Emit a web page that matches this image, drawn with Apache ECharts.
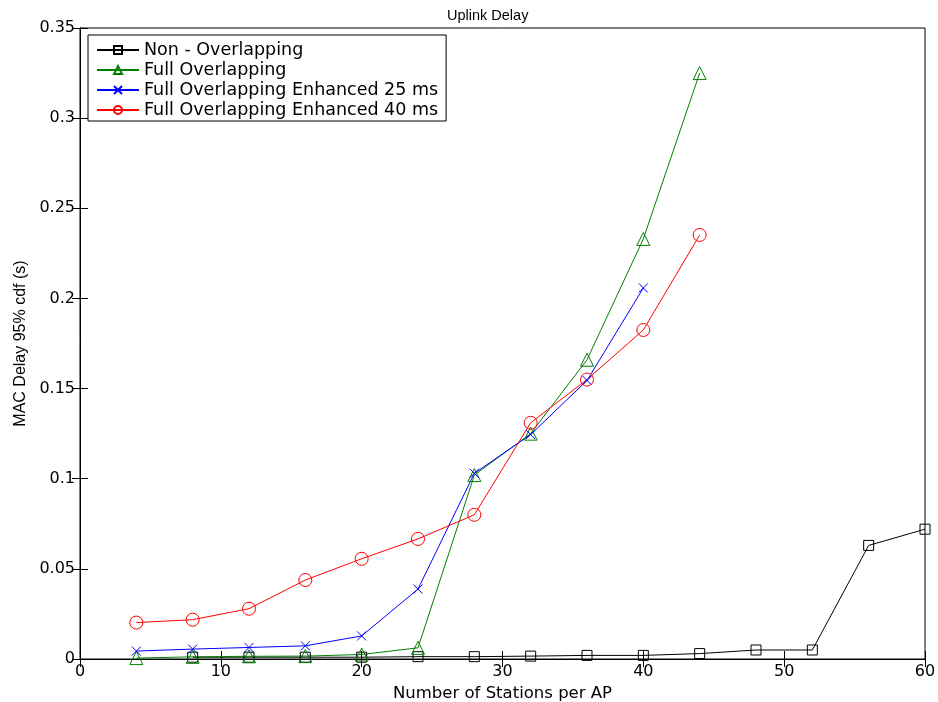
<!DOCTYPE html>
<html>
<head>
<meta charset="utf-8">
<script src="https://cdn.jsdelivr.net/npm/echarts@6/dist/echarts.min.js"></script>
<style>
  html, body { margin: 0; padding: 0; background: #fff; }
  #chart { width: 938px; height: 702px; }
</style>
</head>
<body>
<div id="chart"></div>
<script>
// Stations per AP for each curve
const stationsNonOverlap = [8, 12, 16, 20, 24, 28, 32, 36, 40, 44, 48, 52, 56, 60];
const stationsFull = [4, 8, 12, 16, 20, 24, 28, 32, 36, 40, 44];
const stationsEnh25 = [4, 8, 12, 16, 20, 24, 28, 32, 36, 40];
const stationsEnh40 = [4, 8, 12, 16, 20, 24, 28, 32, 36, 40, 44];

// MAC delay, 95% cdf (s)
const delayNonOverlap = [0.001, 0.001, 0.001, 0.001, 0.0013, 0.0013, 0.0016, 0.002, 0.002, 0.003, 0.005, 0.005, 0.063, 0.072];
const delayFull = [0.0005, 0.0012, 0.0015, 0.0016, 0.0025, 0.0062, 0.102, 0.125, 0.166, 0.233, 0.325];
const delayEnh25 = [0.0044, 0.0055, 0.0064, 0.0073, 0.0128, 0.0388, 0.103, 0.1245, 0.1545, 0.2058];
const delayEnh40 = [0.0202, 0.0218, 0.0279, 0.0438, 0.0556, 0.0666, 0.08, 0.131, 0.155, 0.1825, 0.2352];

const seriesNames = [
  'Non - Overlapping',
  'Full Overlapping',
  'Full Overlapping Enhanced 25 ms',
  'Full Overlapping Enhanced 40 ms'
];
const seriesColors = ['#000000', '#008000', '#0000ff', '#ff0000'];

const xTicks = { min: 0, max: 60, interval: 10 };
const yTicks = { min: 0, max: 0.35, interval: 0.05 };

function pairs(xs, ys) { return xs.map((x, i) => [x, ys[i]]); }

const crossPath = 'path://M0,0L10,10M10,0L0,10';

function makeSeries(name, color, symbol, size, data) {
  return {
    name: name,
    type: 'line',
    data: data,
    symbol: symbol,
    symbolSize: size,
    showAllSymbol: true,
    lineStyle: { color: color, width: 1 },
    itemStyle: { color: 'rgba(255,255,255,0)', borderColor: color, borderWidth: 1 },
    emphasis: { disabled: true },
    animation: false,
    z: 3
  };
}

const font = 'Liberation Sans, Arial, sans-serif';
const wideFont = 'DejaVu Sans, Verdana, sans-serif';

const chart = echarts.init(document.getElementById('chart'));
chart.setOption({
  backgroundColor: '#fff',
  title: {
    text: 'Uplink Delay',
    left: 442,
    top: 3,
    textStyle: { fontFamily: font, fontSize: 14.5, fontWeight: 'normal', color: '#000' }
  },
  legend: {
    orient: 'vertical',
    left: 88,
    top: 35,
    padding: [6, 8, 2, 8],
    itemGap: 2,
    itemWidth: 42,
    itemHeight: 10,
    backgroundColor: '#fff',
    borderColor: '#000',
    borderWidth: 1,
    textStyle: { fontFamily: wideFont, fontSize: 17.5, lineHeight: 17, color: '#000' },
    data: seriesNames
  },
  grid: {
    left: 80, right: 13, top: 28, bottom: 43,
    outerBoundsMode: 'none',
    show: true, borderColor: '#000', borderWidth: 1
  },
  xAxis: [
    {
      type: 'value',
      min: xTicks.min, max: xTicks.max, interval: xTicks.interval,
      name: 'Number of Stations per AP',
      nameLocation: 'middle',
      nameGap: 21,
      nameTextStyle: { fontFamily: wideFont, fontSize: 16.5, color: '#000' },
      axisLine: { lineStyle: { color: '#000' } },
      axisTick: { inside: true, length: 8, lineStyle: { color: '#000' } },
      axisLabel: { fontFamily: wideFont, fontSize: 16, color: '#000', margin: 5 },
      splitLine: { show: false }
    },
    {
      type: 'value', position: 'top',
      min: xTicks.min, max: xTicks.max, interval: xTicks.interval,
      axisLine: { lineStyle: { color: '#000' } },
      axisTick: { inside: true, length: 8, lineStyle: { color: '#000' } },
      axisLabel: { show: false },
      splitLine: { show: false }
    }
  ],
  yAxis: [
    {
      type: 'value',
      min: yTicks.min, max: yTicks.max, interval: yTicks.interval,
      name: 'MAC Delay 95% cdf (s)',
      nameLocation: 'middle',
      nameGap: 51,
      nameTextStyle: { fontFamily: font, fontSize: 16, color: '#000' },
      axisLine: { lineStyle: { color: '#000' } },
      axisTick: { inside: true, length: 8, lineStyle: { color: '#000' } },
      axisLabel: { fontFamily: wideFont, fontSize: 16, color: '#000', margin: 5 },
      splitLine: { show: false }
    },
    {
      type: 'value', position: 'right',
      min: yTicks.min, max: yTicks.max, interval: yTicks.interval,
      axisLine: { lineStyle: { color: '#000' } },
      axisTick: { inside: true, length: 8, lineStyle: { color: '#000' } },
      axisLabel: { show: false },
      splitLine: { show: false }
    }
  ],
  series: [
    makeSeries(seriesNames[0], seriesColors[0], 'rect', 10, pairs(stationsNonOverlap, delayNonOverlap)),
    makeSeries(seriesNames[1], seriesColors[1], 'triangle', 13, pairs(stationsFull, delayFull)),
    makeSeries(seriesNames[2], seriesColors[2], crossPath, 9, pairs(stationsEnh25, delayEnh25)),
    makeSeries(seriesNames[3], seriesColors[3], 'circle', 13, pairs(stationsEnh40, delayEnh40))
  ]
});
</script>
</body>
</html>
